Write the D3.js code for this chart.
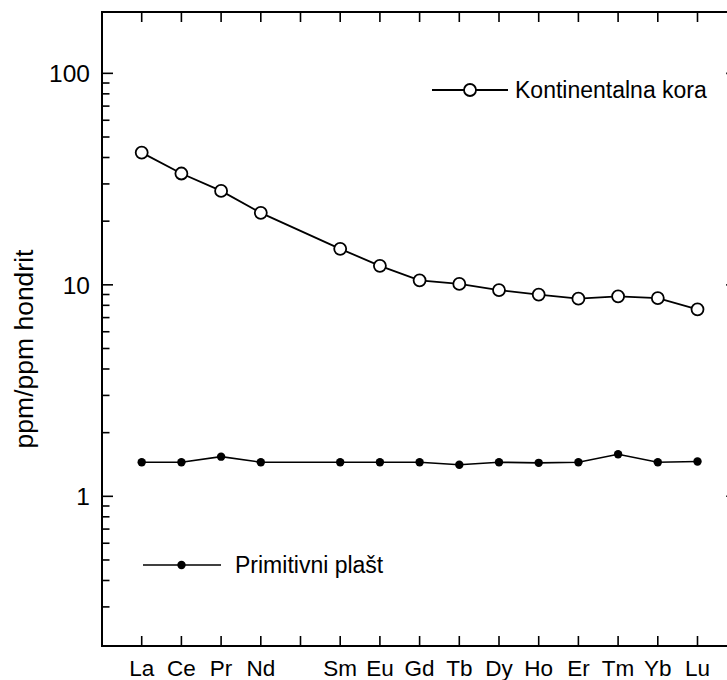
<!DOCTYPE html>
<html><head><meta charset="utf-8">
<script src="https://cdn.jsdelivr.net/npm/d3@7"></script>
<style>html,body{margin:0;padding:0;background:#fff;}svg{display:block;font-family:"Liberation Sans",Arial,sans-serif;}</style>
</head><body>
<svg id="c" width="727" height="680"></svg>
<script>
const categories = ["La","Ce","Pr","Nd","Pm","Sm","Eu","Gd","Tb","Dy","Ho","Er","Tm","Yb","Lu"];
const tickLabels = ["La","Ce","Pr","Nd","","Sm","Eu","Gd","Tb","Dy","Ho","Er","Tm","Yb","Lu"];
const kontinentalnaKora = [42.2,33.6,27.8,21.9,null,14.8,12.3,10.5,10.1,9.45,8.99,8.60,8.82,8.66,7.66];
const primitivniPlast = [1.45,1.45,1.54,1.45,null,1.45,1.45,1.45,1.41,1.45,1.44,1.45,1.58,1.45,1.46];
const yMajor = [1,10,100];
const yMajorLabels = ["1","10","100"];
const yMinor = [0.3,0.4,0.5,0.6,0.7,0.8,0.9,2,3,4,5,6,7,8,9,20,30,40,50,60,70,80,90];
const seriesNames = ["Kontinentalna kora","Primitivni plašt"];

const svg = d3.select("#c");
const L = 102, R = 737.2, T = 12, B = 646;
const x = d3.scalePoint().domain(categories).range([L, R]).padding(1);
const y = d3.scaleLog().domain([0.196, 195]).range([B, T]);

// frame
svg.append("rect").attr("x", L).attr("y", T).attr("width", R - L).attr("height", B - T)
  .attr("fill", "none").attr("stroke", "#000").attr("stroke-width", 2);

// x ticks bottom & top
const g = svg.append("g").attr("stroke", "#000").attr("stroke-width", 1.6);
categories.forEach(c => {
  g.append("line").attr("x1", x(c)).attr("x2", x(c)).attr("y1", B).attr("y2", B - 10);
  g.append("line").attr("x1", x(c)).attr("x2", x(c)).attr("y1", T).attr("y2", T + 10);
});
// y ticks left & right
yMajor.forEach(v => {
  g.append("line").attr("x1", L).attr("x2", L + 11).attr("y1", y(v)).attr("y2", y(v));
  g.append("line").attr("x1", R).attr("x2", R - 11).attr("y1", y(v)).attr("y2", y(v));
});
yMinor.forEach(v => {
  g.append("line").attr("x1", L).attr("x2", L + 7.5).attr("y1", y(v)).attr("y2", y(v));
  g.append("line").attr("x1", R).attr("x2", R - 7.5).attr("y1", y(v)).attr("y2", y(v));
});

// x labels
svg.append("g").selectAll("text").data(categories).join("text")
  .attr("x", d => x(d)).attr("y", 676).attr("text-anchor", "middle")
  .attr("font-size", 22.5).text((d, i) => tickLabels[i]);

// y labels
svg.append("g").selectAll("text").data(yMajor).join("text")
  .attr("x", 90).attr("y", d => y(d)).attr("dy", "0.36em").attr("text-anchor", "end")
  .attr("font-size", 24.5).text((d, i) => yMajorLabels[i]);

// y title
svg.append("text").attr("transform", "translate(33,349) rotate(-90)")
  .attr("text-anchor", "middle").attr("font-size", 26.5).text("ppm/ppm hondrit");

const line = d3.line().x(d => x(d.c)).y(d => y(d.v));
function pts(arr) { return categories.map((c, i) => ({c, v: arr[i]})).filter(d => d.v != null); }

// series 1 - open circles
const s1 = pts(kontinentalnaKora);
svg.append("path").attr("d", line(s1)).attr("fill", "none").attr("stroke", "#000").attr("stroke-width", 1.8);
svg.append("g").selectAll("circle").data(s1).join("circle")
  .attr("cx", d => x(d.c)).attr("cy", d => y(d.v)).attr("r", 6)
  .attr("fill", "#fff").attr("stroke", "#000").attr("stroke-width", 1.8);

// series 2 - filled dots
const s2 = pts(primitivniPlast);
svg.append("path").attr("d", line(s2)).attr("fill", "none").attr("stroke", "#000").attr("stroke-width", 1.6);
svg.append("g").selectAll("circle").data(s2).join("circle")
  .attr("cx", d => x(d.c)).attr("cy", d => y(d.v)).attr("r", 4.2).attr("fill", "#000");

// legends
const lg1 = svg.append("g");
lg1.append("line").attr("x1", 432).attr("x2", 508).attr("y1", 90).attr("y2", 90).attr("stroke", "#000").attr("stroke-width", 1.8);
lg1.append("circle").attr("cx", 470).attr("cy", 90).attr("r", 6).attr("fill", "#fff").attr("stroke", "#000").attr("stroke-width", 1.8);
lg1.append("text").attr("x", 515).attr("y", 90).attr("dy", "0.36em").attr("font-size", 23).text(seriesNames[0]);

const lg2 = svg.append("g");
lg2.append("line").attr("x1", 143).attr("x2", 221).attr("y1", 565).attr("y2", 565).attr("stroke", "#000").attr("stroke-width", 1.6);
lg2.append("circle").attr("cx", 181.5).attr("cy", 565).attr("r", 4.2).attr("fill", "#000");
lg2.append("text").attr("x", 235).attr("y", 565).attr("dy", "0.36em").attr("font-size", 23).text(seriesNames[1]);
</script>
</body></html>
